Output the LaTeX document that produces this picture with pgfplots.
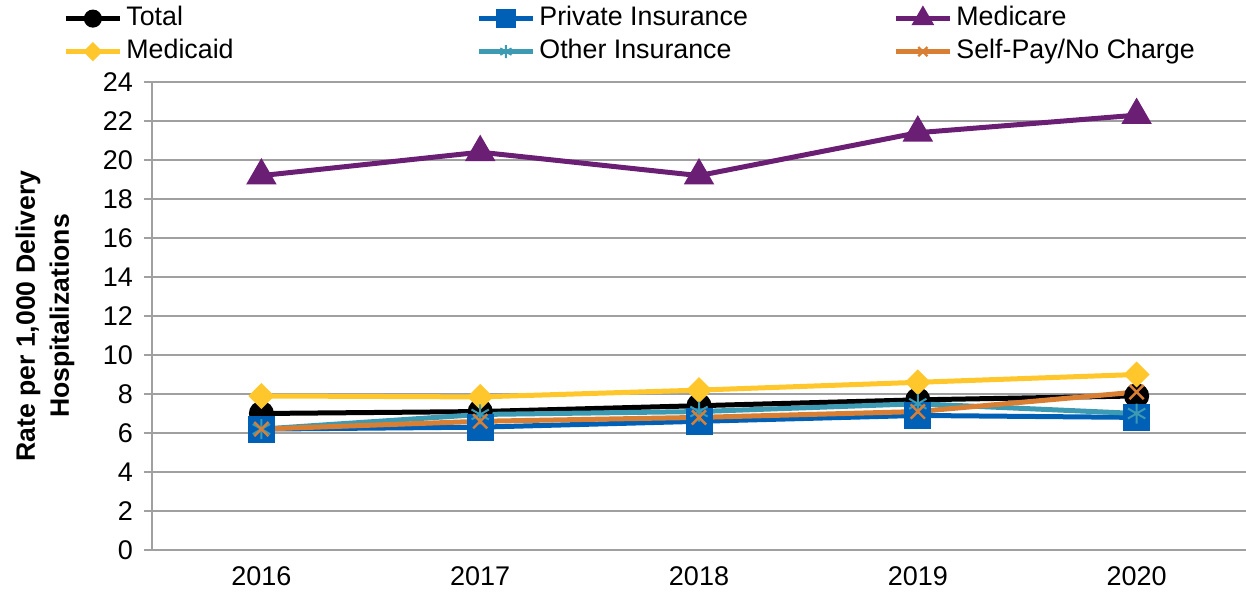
\documentclass[border=0pt]{standalone}
\usepackage{fontspec}
\setmainfont{Liberation Sans}
\usepackage{pgfplots}
\pgfplotsset{compat=1.18}
\definecolor{cTotal}{RGB}{0,0,0}
\definecolor{cPriv}{RGB}{0,96,182}
\definecolor{cMedicare}{RGB}{106,30,116}
\definecolor{cMedicaid}{RGB}{255,199,44}
\definecolor{cOther}{RGB}{60,154,178}
\definecolor{cSelf}{RGB}{217,127,52}
\definecolor{gridgray}{RGB}{160,160,160}
\begin{document}
\begin{tikzpicture}
\begin{axis}[
  scale only axis,
  width=547pt, height=234pt,
  xmin=2015.5, xmax=2020.5,
  ymin=0, ymax=24,
  ytick={0,2,...,24},
  xtick={2016,2017,2018,2019,2020},
  xticklabels={2016,2017,2018,2019,2020},
  extra x ticks={2015.5,2016.5,2017.5,2018.5,2019.5,2020.5},
  extra x tick labels={},
  extra x tick style={major tick length=4pt, tick style={draw=gridgray, line width=0.8pt}},
  major x tick style={draw=none},
  xtick pos=bottom, ytick pos=left,
  tick align=outside,
  major tick length=4pt,
  y tick style={draw=gridgray, line width=0.8pt},
  ymajorgrids,
  grid style={draw=gridgray, line width=0.8pt},
  axis x line*=bottom, axis y line*=left,
  axis line style={draw=gridgray, line width=0.8pt, -},
  tick label style={font=\fontsize{13.5}{16}\selectfont},
  /pgf/number format/assume math mode=true,
  xticklabel style={yshift=-1pt},
  yticklabel style={xshift=-2pt},
  ylabel={Rate per 1,000 Delivery\\Hospitalizations},
  ylabel style={font=\fontsize{13.3}{17}\selectfont\bfseries, align=center, at={(axis description cs:-0.0978,0.5)}, anchor=center},
  legend columns=3,
  legend style={draw=none, fill=none, inner sep=0pt, at={(axis description cs:0,1)}, anchor=south west,
    xshift=-44.5pt, yshift=7.5pt,
    font=\fontsize{13.4}{16}\selectfont,
    column sep=0pt,
    /tikz/every odd column/.append style={column sep=1pt},
    row sep=1.5pt,
    nodes={inner sep=1pt, anchor=west, text height=10pt, text depth=3pt}},
  legend image code/.code={\draw[mark repeat=2, mark phase=2, every mark/.append style={scale=0.65}] plot coordinates {(0pt,0pt) (13.5pt,0pt) (27pt,0pt)};},
  every axis plot/.append style={line width=2.5pt},
]
\addplot[cTotal, mark=*, mark size=5pt] coordinates {(2016,7.0) (2017,7.1) (2018,7.4) (2019,7.7) (2020,7.9)};
\addlegendentry{\makebox[174pt][l]{Total}}
\addplot[cPriv, mark=square*, mark size=5.5pt] coordinates {(2016,6.2) (2017,6.3) (2018,6.6) (2019,6.9) (2020,6.8)};
\addlegendentry{\makebox[176pt][l]{Private Insurance}}
\addplot[cMedicare, mark=triangle*, mark size=6.3pt] coordinates {(2016,19.2) (2017,20.4) (2018,19.2) (2019,21.4) (2020,22.3)};
\addlegendentry{Medicare}
\addplot[cMedicaid, mark=diamond*, mark size=6.3pt, mark options={yscale=0.75}] coordinates {(2016,7.9) (2017,7.85) (2018,8.2) (2019,8.6) (2020,9.0)};
\addlegendentry{\makebox[174pt][l]{Medicaid}}
\addplot[cOther, mark=asterisk, mark size=5pt, mark options={line width=1pt}] coordinates {(2016,6.2) (2017,6.95) (2018,7.1) (2019,7.5) (2020,7.0)};
\addlegendentry{\makebox[176pt][l]{Other Insurance}}
\addplot[cSelf, mark=x, mark size=5pt, mark options={line width=1.2pt}] coordinates {(2016,6.2) (2017,6.6) (2018,6.8) (2019,7.1) (2020,8.1)};
\addlegendentry{Self-Pay/No Charge}
\end{axis}
\pgfresetboundingbox
\path (-76pt,-22.5pt) rectangle (547pt,275pt);
\end{tikzpicture}
\end{document}
